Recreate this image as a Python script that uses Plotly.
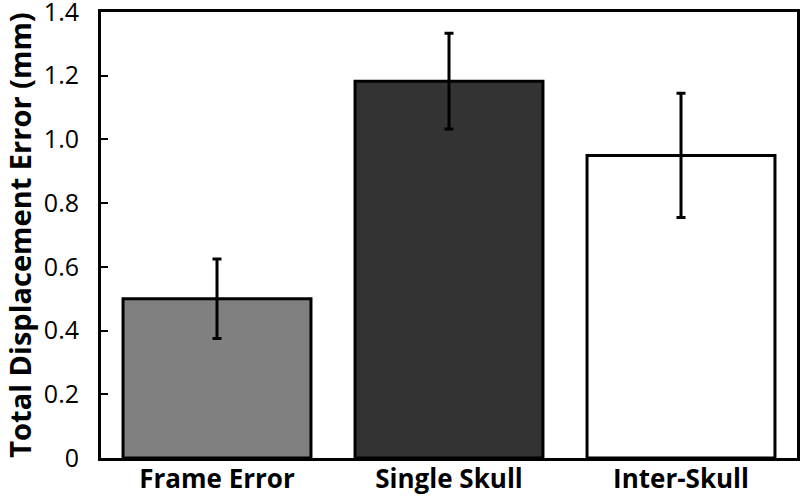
import plotly.graph_objects as go

categories = ["Frame Error", "Single Skull", "Inter-Skull"]
values = [0.50, 1.183, 0.95]
errors = [0.125, 0.15, 0.195]
colors = ["#808080", "#333333", "#ffffff"]
y_ticks = [0, 0.2, 0.4, 0.6, 0.8, 1.0, 1.2, 1.4]
y_tick_labels = ["0", "0.2", "0.4", "0.6", "0.8", "1.0", "1.2", "1.4"]

fig = go.Figure(go.Bar(
    x=categories, y=values,
    marker=dict(color=colors, line=dict(color="black", width=3)),
    error_y=dict(type="data", array=errors, visible=True, color="black", thickness=3, width=4.5),
    width=0.81,
))

fig.update_layout(
    width=801, height=497,
    margin=dict(l=101, r=4, t=12, b=39),
    paper_bgcolor="white", plot_bgcolor="white",
    font=dict(family="Open Sans", color="black"),
    showlegend=False,
    xaxis=dict(
        showline=True, linecolor="black", linewidth=3, mirror=True,
        tickfont=dict(size=26, family="Open Sans", weight="bold"),
        ticks="", ticklabelstandoff=-4, automargin=False,
        ticklabeloverflow="allow",
    ),
    yaxis=dict(
        range=[0, 1.4001], tickvals=y_ticks, ticktext=y_tick_labels,
        showline=True, linecolor="black", linewidth=3, mirror=True,
        ticks="inside", ticklen=7, tickwidth=2, tickcolor="black",
        showgrid=False, zeroline=False,
        tickfont=dict(size=25),
        ticklabelstandoff=14, automargin=False,
        ticklabeloverflow="allow",
        title=dict(text="Total Displacement Error (mm)", font=dict(size=29, weight="bold"), standoff=10),
    ),
)

fig.write_html(
    "out.html",
    config={"displayModeBar": False},
    post_script="document.body.style.margin='0';document.body.style.overflow='hidden';",
)
